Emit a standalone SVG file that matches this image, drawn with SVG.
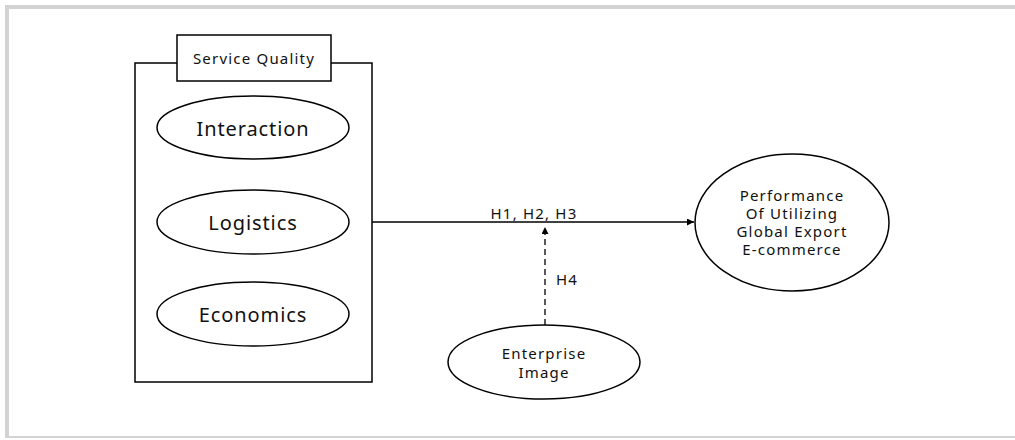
<svg xmlns="http://www.w3.org/2000/svg" width="1015" height="440" viewBox="0 0 1015 440">
<style>
.frame{fill:#d3d3d3}
.shape{fill:#fff;stroke:#000;stroke-width:1.5}
.t{font-family:"Noto Sans","Open Sans","DejaVu Sans",sans-serif;fill:#111;text-anchor:middle}
.big{font-size:20px;letter-spacing:0.9px}
.sm{font-size:15px;letter-spacing:1.2px}
.conn{stroke:#000;stroke-width:1.3;fill:none}
</style>
<defs>
<marker id="arr" viewBox="0 0 10 10" refX="10" refY="5" markerWidth="7" markerHeight="7" markerUnits="userSpaceOnUse" orient="auto">
<path d="M0,0 L10,5 L0,10 z" fill="#000"/>
</marker>
</defs>
<rect class="frame" x="5" y="5" width="1010" height="433"/>
<rect x="9" y="9" width="1006" height="427" fill="#fff"/>
<g id="service-quality">
<rect class="shape" x="135" y="63" width="237" height="319"/>
<rect class="shape" x="177" y="35" width="154" height="46"/>
<text class="t sm" x="254" y="64">Service Quality</text>
</g>
<g id="interaction">
<ellipse class="shape" cx="253" cy="127.5" rx="96" ry="31.5"/>
<text class="t big" x="253" y="136">Interaction</text>
</g>
<g id="logistics">
<ellipse class="shape" cx="253" cy="222" rx="96" ry="32"/>
<text class="t big" x="253" y="230">Logistics</text>
</g>
<g id="economics">
<ellipse class="shape" cx="253" cy="314" rx="96" ry="32"/>
<text class="t big" x="253" y="322">Economics</text>
</g>
<g id="performance">
<ellipse class="shape" cx="792" cy="222.5" rx="97" ry="68.5"/>
<text class="t sm" x="792" y="201">Performance</text>
<text class="t sm" x="792" y="219">Of Utilizing</text>
<text class="t sm" x="792" y="237">Global Export</text>
<text class="t sm" x="792" y="255">E-commerce</text>
</g>
<g id="enterprise-image">
<ellipse class="shape" cx="544" cy="362" rx="96" ry="37"/>
<text class="t sm" x="544" y="359">Enterprise</text>
<text class="t sm" x="544" y="378">Image</text>
</g>
<g id="connectors">
<line class="conn" x1="372" y1="222" x2="694" y2="222" marker-end="url(#arr)"/>
<text class="t sm" x="534" y="219">H1, H2, H3</text>
<line class="conn" x1="545" y1="325" x2="545" y2="227" stroke-dasharray="6,4" marker-end="url(#arr)"/>
<text class="t sm" x="567" y="285">H4</text>
</g>
</svg>
